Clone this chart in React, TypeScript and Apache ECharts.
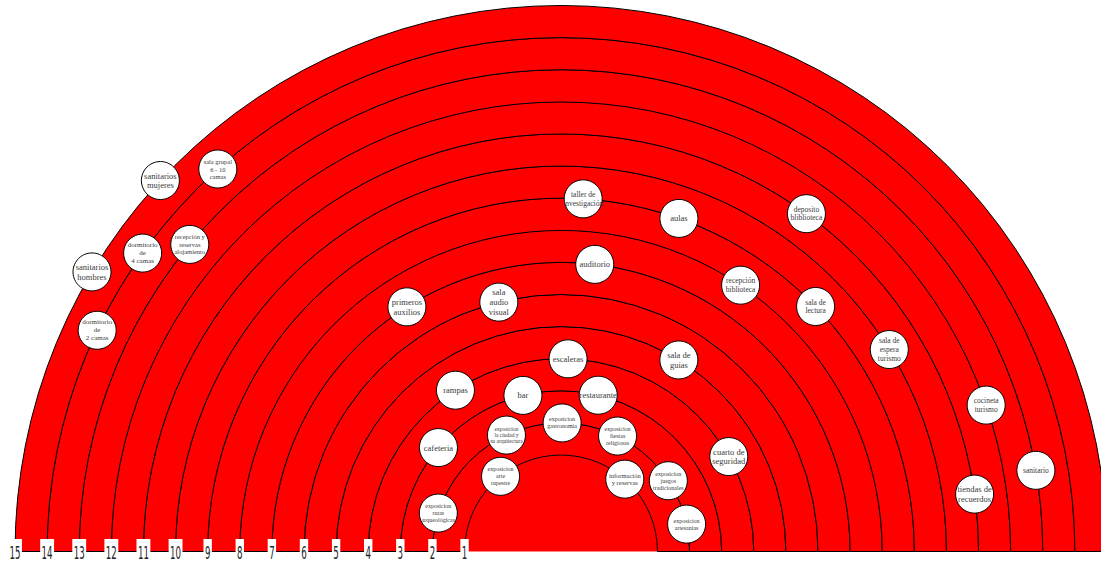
import React, { useEffect, useRef } from "react";
import * as echarts from "echarts";

// ring numbers (tick labels along the left baseline)
const ringNumbers = [1, 2, 3, 4, 5, 6, 7, 8, 9, 10, 11, 12, 13, 14, 15];
const ringLabels = ["1", "2", "3", "4", "5", "6", "7", "8", "9", "10", "11", "12", "13", "14", "15"];

// nodes placed on the rings: name, ring, angle (0 = left, 90 = top, 180 = right)
const nodeNames = [
  "sanitarios\nmujeres",
  "sala grupal\n6 - 10\ncamas",
  "dormitorio\nde\n4 camas",
  "recepción y\nreservas\nalojamiento",
  "sanitarios\nhombres",
  "dormitorio\nde\n2 camas",
  "taller de\ninvestigación",
  "aulas",
  "deposito\nbliblioteca",
  "auditorio",
  "recepción\nbiblioteca",
  "sala\naudio\nvisual",
  "primeros\nauxilios",
  "sala de\nlectura",
  "escaleras",
  "sala de\nguias",
  "rampas",
  "bar",
  "restaurante",
  "cafeteria",
  "exposicion\ngastronomia",
  "exposicion\nla ciudad y\nsu arquitectura",
  "exposicion\nfiestas\nreligiosas",
  "cuarto de\nseguridad",
  "exposicion\narte\nrupestre",
  "información\ny reservas",
  "exposicion\njuegos\ntradicionales",
  "exposicion\nrutas\narqueológicas",
  "exposicion\nartesanias",
  "sala de\nespera\nturismo",
  "cocineta\nturismo",
  "sanitario",
  "tiendas de\nrecuerdos",
];
const nodeRings = [15, 14, 14, 13, 15, 14, 9, 9, 11, 7, 8, 6, 7, 9, 4, 5, 4, 3, 3, 3, 2, 2, 2, 4, 1, 1, 2, 2, 2, 10, 12, 13, 11];
const nodeAngles = [
  42.8, 48.1, 35.5, 39.6, 30.8, 25.5, 93.6, 109.5, 126.0, 96.7, 124.0, 76.0, 57.8, 136.1, 92.1, 121.6, 56.8,
  76.3, 103.4, 40.3, 90.5, 64.9, 116.1, 150.5, 51.2, 131.4, 146.6, 17.4, 167.7, 148.4, 161.0, 170.3, 172.1,
];

// style: font size per node label
const FONT_SIZES: Record<string, number> = {
  "sala grupal\n6 - 10\ncamas": 6.5,
  "dormitorio\nde\n4 camas": 7,
  "recepción y\nreservas\nalojamiento": 6.5,
  "dormitorio\nde\n2 camas": 7,
  "taller de\ninvestigación": 7.5,
  "deposito\nbliblioteca": 7.5,
  "recepción\nbiblioteca": 7.5,
  "sala de\nlectura": 7.5,
  "exposicion\ngastronomia": 6,
  "exposicion\nla ciudad y\nsu arquitectura": 5.5,
  "exposicion\nfiestas\nreligiosas": 6,
  "exposicion\narte\nrupestre": 6,
  "información\ny reservas": 6.5,
  "exposicion\njuegos\ntradicionales": 6,
  "exposicion\nrutas\narqueológicas": 6,
  "exposicion\nartesanias": 6,
  "sala de\nespera\nturismo": 7.5,
  "cocineta\nturismo": 7.5,
  "sanitario": 7.5,
};
const fontSizeOf = (n: string) => FONT_SIZES[n] ?? 8.5;
const TEXT_COLOR = "#3a3a3a";

export default function App() {
  const ref = useRef<HTMLDivElement>(null);
  useEffect(() => {
    document.body.style.margin = "0";
    const chart = echarts.init(ref.current!, undefined, { renderer: "svg" });
    const option: any = {
      animation: false,
      backgroundColor: "#ffffff",
      polar: { center: [561, 551.5], radius: [64.35, 546] },
      radiusAxis: { type: "value", min: 0, max: 15, show: false },
      angleAxis: { type: "value", min: 0, max: 360, startAngle: 180, clockwise: true, show: false },
      series: [
        {
          type: "custom",
          coordinateSystem: "polar",
          silent: true,
          z: 1,
          data: ringNumbers.map((r) => [r, 0]),
          renderItem: (params: any, api: any) => {
            const ring = api.value(0);
            const cs = params.coordSys;
            const R = cs.cy - api.coord([ring, 90])[1];
            const R0 = ring === 1 ? 0 : cs.cy - api.coord([ring - 1, 90])[1];
            return {
              type: "sector",
              shape: { cx: cs.cx, cy: cs.cy, r0: R0, r: R, startAngle: Math.PI, endAngle: 2 * Math.PI, clockwise: true },
              style: { fill: "#ff0000", stroke: ring === 1 ? "none" : "#000000", lineWidth: 1 },
            };
          },
        },
        {
          type: "scatter",
          coordinateSystem: "polar",
          z: 3,
          symbol: "circle",
          symbolSize: 38,
          silent: true,
          itemStyle: { color: "#ffffff", borderColor: "#000000", borderWidth: 1, opacity: 1 },
          label: {
            show: true,
            position: "inside",
            color: TEXT_COLOR,
            fontFamily: "Liberation Serif",
            formatter: (p: any) => p.name,
          },
          emphasis: { disabled: true },
          data: nodeNames.map((n, i) => ({
            name: n,
            value: [nodeRings[i], nodeAngles[i]],
            label: { color: TEXT_COLOR, fontSize: fontSizeOf(n), lineHeight: fontSizeOf(n) * 1.15 },
          })),
        },
        {
          type: "custom",
          coordinateSystem: "polar",
          silent: true,
          z: 5,
          data: ringNumbers.map((r) => [r, 0]),
          renderItem: (params: any, api: any) => {
            const p = api.coord([api.value(0), 0]);
            return {
              type: "text",
              x: p[0],
              y: p[1] - 12.5,
              scaleX: 0.48,
              style: {
                text: ringLabels[params.dataIndex],
                fontFamily: "DejaVu Sans",
                fontSize: 18,
                fill: "#222222",
                align: "center",
                verticalAlign: "top",
                backgroundColor: "#ffffff",
                padding: [5, 3, 0, 3],
              },
            };
          },
        },
      ],
    };
    chart.setOption(option);
    return () => chart.dispose();
  }, []);
  return (
    <div
      ref={ref}
      style={{ position: "fixed", left: 0, top: 0, width: 1101, height: 564, background: "#fff" }}
    />
  );
}
